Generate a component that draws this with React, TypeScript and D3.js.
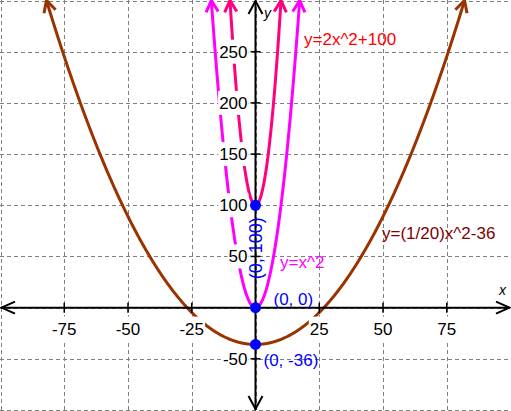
import React, { useEffect, useRef } from "react";
import * as d3 from "d3";

const W = 511;
const H = 411;

// Curves y = a*x^2 + c
const curveNames = ["y=2x^2+100", "y=x^2", "y=(1/20)x^2-36"];
const curveA = [2, 1, 0.05];
const curveC = [100, 0, -36];
const curveColors = ["#ff0080", "#ff00ff", "#993300"];
const labelColors = ["#ff0000", "#ff00ff", "#800000"];
const labelX = [304, 280, 382];
const labelY = [45, 268, 239];

// Marked points
const pointXs = [0, 0, 0];
const pointYs = [100, 0, -36];
const pointLabels = ["(0, 100)", "(0, 0)", "(0, -36)"];

// Ticks
const xTicks = [-75, -50, -25, 25, 50, 75];
const yTicks = [250, 200, 150, 100, 50, -50];
const xGrid = [-100, -75, -50, -25, 0, 25, 50, 75, 100];
const yGrid = [-100, -50, 0, 50, 100, 150, 200, 250, 300];

const FONT = "'Liberation Sans', Arial, sans-serif";

export default function App() {
  const ref = useRef<SVGSVGElement | null>(null);

  useEffect(() => {
    const svg = d3.select(ref.current);
    svg.selectAll("*").remove();
    const x = d3.scaleLinear().domain([-100, 100]).range([0.5, 510.5]);
    const y = d3.scaleLinear().domain([-100, 300]).range([410, 0.5]);
    const x0 = x(0);
    const y0 = y(0);

    svg.append("rect").attr("width", W).attr("height", H).attr("fill", "#fff");

    // grid
    const g = svg.append("g").attr("stroke", "#808080").attr("stroke-width", 1).attr("stroke-dasharray", "4,3");
    xGrid.forEach((v) => {
      const px = Math.round(x(v)) + 0.5;
      g.append("line").attr("x1", px).attr("x2", px).attr("y1", 0).attr("y2", H);
    });
    yGrid.forEach((v) => {
      const py = Math.round(y(v)) + 0.5;
      g.append("line").attr("x1", 0).attr("x2", W).attr("y1", py).attr("y2", py);
    });

    // curves
    const line = d3
      .line<[number, number]>()
      .x((d) => x(d[0]))
      .y((d) => y(d[1]));
    const cg = svg.append("g").attr("fill", "none").attr("stroke-width", 3);
    curveA.forEach((a, i) => {
      const c = curveC[i];
      const xe = Math.sqrt((300 - c) / a);
      const f = (t: number): [number, number] => [t, a * t * t + c];
      const pts = d3.range(0, 801).map((k) => f(-xe + (2 * xe * k) / 800));
      const col = curveColors[i];
      cg.append("path").attr("d", line(pts)).attr("stroke", col);
      const ends: [[number, number], [number, number]][] = [
        [pts[0], pts[3]],
        [pts[800], pts[797]],
      ];
      ends.forEach(([tip, inner]) => {
        const tx = x(tip[0]);
        const ty = y(tip[1]);
        const ix = x(inner[0]);
        const iy = y(inner[1]);
        const ang = Math.atan2(ty - iy, tx - ix);
        const L = 13;
        const spread = (28 * Math.PI) / 180;
        const p1: [number, number] = [tx - L * Math.cos(ang - spread), ty - L * Math.sin(ang - spread)];
        const p2: [number, number] = [tx - L * Math.cos(ang + spread), ty - L * Math.sin(ang + spread)];
        cg.append("path")
          .attr("d", d3.line()([p1, [tx, ty], p2]))
          .attr("stroke", col)
          .attr("stroke-linejoin", "miter");
      });
    });

    // tick labels with white background boxes
    const tl = svg.append("g").attr("font-family", FONT).attr("font-size", 17).attr("fill", "#000");
    const addLabel = (txt: string, px: number, py: number, anchor: string) => {
      const gg = tl.append("g");
      const r = gg.append("rect").attr("fill", "#fff");
      const t = gg.append("text").attr("x", px).attr("y", py).attr("text-anchor", anchor).text(txt);
      const bb = (t.node() as SVGTextElement).getBBox();
      const cy = py - 6;
      r.attr("x", bb.x - 1).attr("y", cy - 12).attr("width", bb.width + 2).attr("height", 24);
    };
    xTicks.forEach((v) => addLabel(String(v), x(v), y0 + 27, "middle"));
    yTicks.forEach((v) => addLabel(String(v), x0 - 8, y(v) + 6, "end"));

    // axes
    const ax = svg.append("g").attr("stroke", "#000").attr("stroke-width", 2).attr("fill", "none");
    ax.append("line").attr("x1", 1).attr("x2", 510).attr("y1", y0).attr("y2", y0);
    ax.append("line").attr("x1", x0).attr("x2", x0).attr("y1", 1).attr("y2", 410);
    const chev = (pts: [number, number][]) => ax.append("path").attr("d", d3.line()(pts));
    chev([[15, y0 - 6], [1.5, y0], [15, y0 + 6]]);
    chev([[496, y0 - 6], [509.5, y0], [496, y0 + 6]]);
    chev([[x0 - 7, 14], [x0, 1], [x0 + 7, 14]]);
    chev([[x0 - 7, 396], [x0, 409], [x0 + 7, 396]]);
    xTicks.forEach((v) => {
      ax.append("line").attr("x1", x(v)).attr("x2", x(v)).attr("y1", y0 - 5).attr("y2", y0 + 5).attr("stroke-width", 1.5);
    });
    yTicks.forEach((v) => {
      ax.append("line").attr("x1", x0 - 5).attr("x2", x0 + 5).attr("y1", y(v)).attr("y2", y(v)).attr("stroke-width", 1.5);
    });

    // axis names
    svg.append("text").attr("x", 499).attr("y", 295).attr("font-family", FONT).attr("font-size", 14)
      .attr("font-style", "italic").attr("fill", "#000").text("x");
    svg.append("text").attr("x", 264).attr("y", 18).attr("font-family", FONT).attr("font-size", 14)
      .attr("font-style", "italic").attr("fill", "#000").text("y");

    // curve labels
    curveNames.forEach((nm, i) => {
      svg.append("text").attr("x", labelX[i]).attr("y", labelY[i]).attr("font-family", FONT)
        .attr("font-size", 17).attr("fill", labelColors[i]).text(nm);
    });

    // points
    pointXs.forEach((px, i) => {
      svg.append("circle").attr("cx", x(px)).attr("cy", y(pointYs[i])).attr("r", 5.5).attr("fill", "#0000ff");
    });
    // point labels
    const pl = svg.append("g").attr("font-family", FONT).attr("font-size", 17).attr("fill", "#0000ff");
    pl.append("text")
      .attr("transform", `translate(${x0 + 6.5},${y(100) + 43}) rotate(-90)`)
      .attr("text-anchor", "middle")
      .attr("font-size", 18)
      .text(pointLabels[0]);
    pl.append("text").attr("x", x0 + 18).attr("y", y0 - 3).text(pointLabels[1]);
    pl.append("text").attr("x", x0 + 8).attr("y", y(-36) + 22).text(pointLabels[2]);
  }, []);

  return (
    <svg
      ref={ref}
      width={W}
      height={H}
      style={{ position: "absolute", left: 0, top: 0, display: "block" }}
    />
  );
}
